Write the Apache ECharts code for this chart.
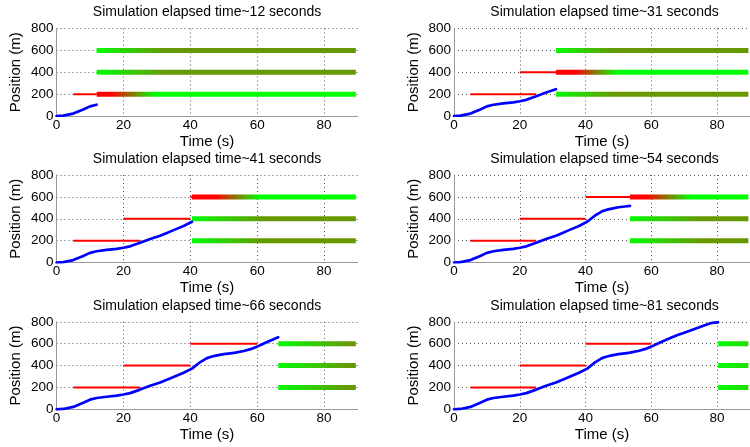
<!DOCTYPE html>
<html>
<head>
<meta charset="utf-8">
<script src="https://cdn.jsdelivr.net/npm/echarts@6/dist/echarts.min.js"></script>
<style>
  html, body { margin: 0; padding: 0; background: #fff; }
  #chart { width: 750px; height: 447px; }
</style>
</head>
<body>
<div id="chart"></div>
<script>
// Elapsed simulation time (s) quoted in each panel title
const elapsedLabels = [12, 31, 41, 54, 66, 81];
// Time (s) at which each snapshot cuts the history / starts the prediction
const snapshotTimes = [12, 31, 40.5, 53.5, 66.3, 80.3];

// Vehicle trajectory: time (s) and position (m)
const trajTime = [0, 2, 5, 8, 10, 12, 15, 18, 20, 22, 25, 28, 31, 33, 35, 38, 40.5, 43, 45, 46.5, 48, 50, 52, 53.5, 56, 58, 60, 61.5, 63, 66.3, 68, 70, 72.5, 75, 78, 79, 80.3];
const trajPos  = [0, 3, 22, 60, 88, 103, 115, 125, 135, 148, 180, 215, 245, 270, 296, 334, 372, 432, 468, 483, 493, 505, 512, 518, 533, 550, 573, 594, 615, 658, 680, 700, 727, 755, 787, 792, 795];

// Signalised intersections (m) and their observed red phases (s)
const signalPos = [200, 400, 600];
const redStart  = [5, 20, 40];
const redEnd    = [25, 40, 60];

// Predicted probability of green after each snapshot, per intersection: [time (s), pGreen]
const prediction = [
  [ [[12, 0], [17, 0], [30, 1], [89.5, 1]],
    [[12, 1], [33, 0.6], [89.5, 0.6]],
    [[12, 1], [33, 0.6], [89.5, 0.6]] ],
  [ [[31, 1], [49, 0.6], [89.5, 0.6]],
    [[31, 0], [37.5, 0], [50, 1], [89.5, 1]],
    [[31, 1], [49, 0.6], [89.5, 0.6]] ],
  [ [[40.5, 1], [62, 0.6], [89.5, 0.6]],
    [[40.5, 1], [62, 0.6], [89.5, 0.6]],
    [[40.5, 0], [48, 0], [61, 1], [89.5, 1]] ],
  [ [[53.5, 1], [75, 0.6], [89.5, 0.6]],
    [[53.5, 1], [75, 0.6], [89.5, 0.6]],
    [[53.5, 0], [59, 0], [72, 1], [89.5, 1]] ],
  [ [[66.3, 1], [87, 0.6], [89.5, 0.6]],
    [[66.3, 1], [87, 0.6], [89.5, 0.6]],
    [[66.3, 1], [87, 0.6], [89.5, 0.6]] ],
  [ [[80.3, 1], [89.5, 0.85]],
    [[80.3, 1], [89.5, 0.85]],
    [[80.3, 1], [89.5, 0.85]] ]
];

// ---- layout & style ----
const LEFTS = [56.5, 454];
const TOPS = [28.5, 175, 321.8];
const W = 301, H = 87.5;
const FONT = '"Liberation Sans", Arial, Helvetica, sans-serif';
const GRID_LINE = { color: '#555', type: [1, 3], width: 1 };
const AXIS_LINE = { color: '#999', width: 1 };

function probColor(p) {
  return 'rgb(' + Math.round(255 * (1 - p)) + ',' + Math.round(255 * p) + ',0)';
}

const grids = [], xAxes = [], yAxes = [], series = [], graphics = [];

elapsedLabels.forEach((lab, i) => {
  const r = Math.floor(i / 2), c = i % 2;
  const left = LEFTS[c], top = TOPS[r];
  const cut = snapshotTimes[i];

  grids.push({ left: left, top: top, width: W, height: H, containLabel: false });

  xAxes.push({
    gridIndex: i, type: 'value', min: 0, max: 90, interval: 20,
    name: 'Time (s)', nameLocation: 'middle', nameGap: 18,
    nameTextStyle: { fontSize: 15, color: '#000', fontFamily: FONT },
    axisLine: { show: true, onZero: false, lineStyle: AXIS_LINE },
    axisTick: { show: false },
    axisLabel: { margin: 2, fontSize: 13.5, color: '#000', fontFamily: FONT, showMaxLabel: false },
    splitLine: { show: true, showMinLine: false, showMaxLine: false, lineStyle: GRID_LINE }
  });

  yAxes.push({
    gridIndex: i, type: 'value', min: 0, max: 800, interval: 200,
    name: 'Position (m)', nameLocation: 'middle', nameGap: 33, nameRotate: 90,
    nameTextStyle: { fontSize: 15, color: '#000', fontFamily: FONT },
    axisLine: { show: true, onZero: false, lineStyle: AXIS_LINE },
    axisTick: { show: false },
    axisLabel: { margin: 3, fontSize: 13.5, color: '#000', fontFamily: FONT },
    splitLine: { show: true, showMinLine: false, showMaxLine: true, lineStyle: GRID_LINE }
  });

  graphics.push({
    type: 'text', x: left + W / 2, y: top - 16,
    style: {
      text: 'Simulation elapsed time~' + lab + ' seconds',
      align: 'center', verticalAlign: 'middle',
      font: '14px ' + FONT, fill: '#000'
    }
  });

  // predicted signal states ahead of the snapshot
  signalPos.forEach((pos, k) => {
    const prof = prediction[i][k];
    const t0 = prof[0][0], t1 = prof[prof.length - 1][0];
    series.push({
      type: 'line', xAxisIndex: i, yAxisIndex: i, silent: true, z: 2,
      symbol: 'none', animation: false,
      data: [[t0, pos], [t1, pos]],
      lineStyle: {
        width: 5,
        color: {
          type: 'linear', x: 0, y: 0, x2: 1, y2: 0,
          colorStops: prof.map(d => ({ offset: (d[0] - t0) / (t1 - t0), color: probColor(d[1]) }))
        }
      }
    });
  });

  // red phases observed up to the snapshot
  signalPos.forEach((pos, k) => {
    if (redStart[k] >= cut) return;
    series.push({
      type: 'line', xAxisIndex: i, yAxisIndex: i, silent: true, z: 3,
      symbol: 'none', animation: false,
      data: [[redStart[k], pos], [Math.min(redEnd[k], cut), pos]],
      lineStyle: { width: 2, color: '#ff0000' }
    });
  });

  // vehicle trajectory so far
  series.push({
    type: 'line', xAxisIndex: i, yAxisIndex: i, silent: true, z: 4,
    symbol: 'none', animation: false,
    data: trajTime.map((t, n) => [t, trajPos[n]]).filter(d => d[0] <= cut + 1e-6),
    lineStyle: { width: 2.7, color: '#0000ff', join: 'round', cap: 'round' }
  });
});

const chart = echarts.init(document.getElementById('chart'), null, { renderer: 'canvas' });
chart.setOption({
  animation: false,
  backgroundColor: '#fff',
  grid: grids,
  xAxis: xAxes,
  yAxis: yAxes,
  series: series,
  graphic: graphics
});
</script>
</body>
</html>
